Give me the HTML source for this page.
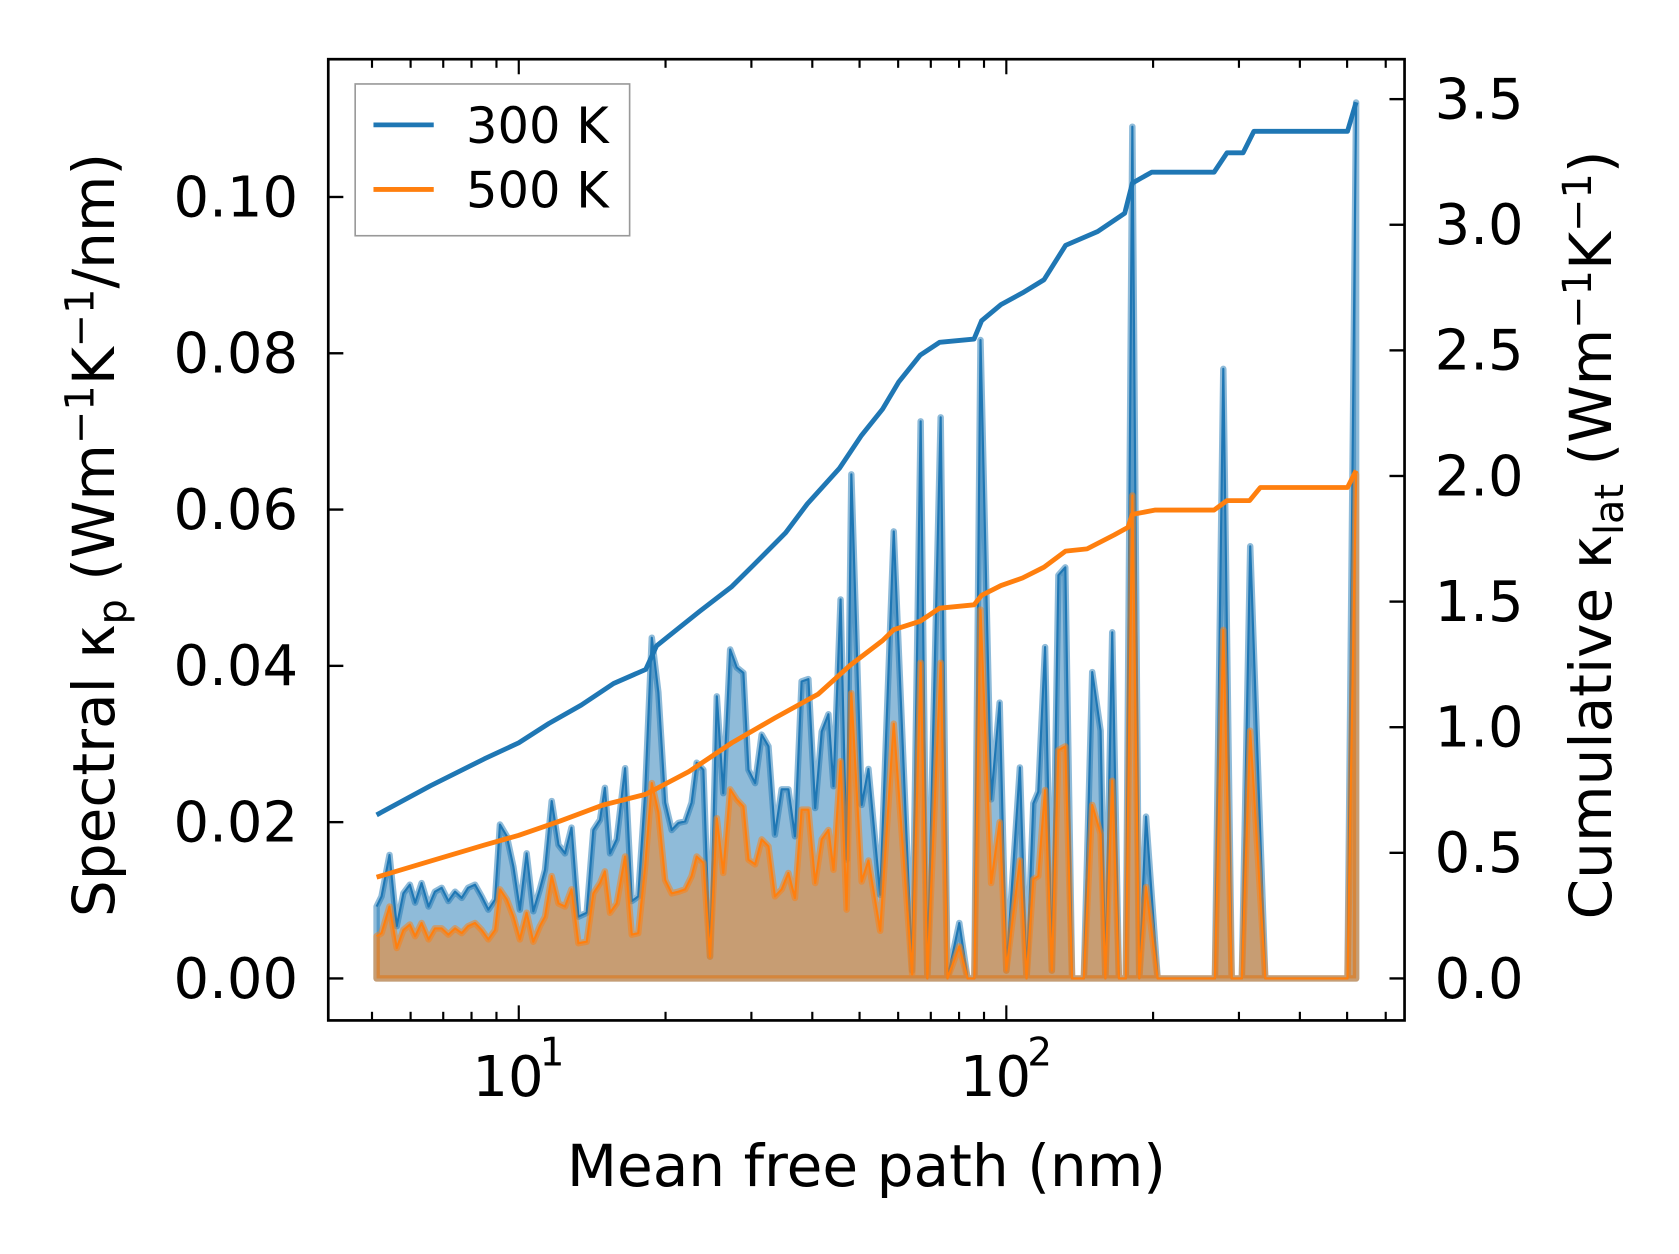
<!DOCTYPE html>
<html><head><meta charset="utf-8"><style>
html,body{margin:0;padding:0;background:#fff;}
svg{display:block;font-family:"DejaVu Sans","Liberation Sans",sans-serif;}
</style></head><body>
<svg id="chart" width="1679" height="1254" viewBox="0 0 1560 1165" preserveAspectRatio="none" xmlns="http://www.w3.org/2000/svg">
<rect width="1560" height="1165" fill="#fff"/>
<g id="plot"></g>
<g id="axes"></g>
</svg>
<script>
const mfp = [5.11,5.23,5.43,5.62,5.80,5.98,6.13,6.32,6.53,6.73,6.95,7.17,7.40,7.64,7.87,8.13,8.39,8.66,8.94,9.15,9.45,9.75,10.05,10.38,10.71,11.05,11.32,11.68,12.06,12.44,12.83,13.25,13.78,14.22,14.68,15.02,15.39,15.88,16.52,17.05,17.58,18.16,18.74,19.33,19.96,20.59,21.26,21.94,22.62,23.17,23.91,24.68,25.48,26.27,27.13,27.99,28.89,29.58,30.53,31.50,32.52,33.53,34.62,35.73,36.86,38.04,39.26,40.54,41.83,43.17,44.20,45.71,47.03,48.10,50.50,52.14,55.12,58.75,64.11,66.71,68.87,73.34,75.73,80.09,83.29,86.0,88.5,93.1,96.9,100,106.6,110.0,113.6,116.3,120.1,124.0,127.9,132.1,136.4,144.2,150.0,156.1,159.6,164.9,170.2,175.8,181.3,187.3,193.4,204.3,267.8,278.6,289.9,304.1,316.4,339.7,501,521.8];
const spec300 = [.0092,.0105,.0158,.0067,.0109,.0120,.0097,.0122,.0092,.0111,.0116,.0099,.0111,.0103,.0116,.0120,.0105,.0088,.0101,.0197,.0182,.0143,.0088,.0160,.0086,.0114,.0139,.0227,.0171,.0160,.0193,.0079,.0084,.0190,.0203,.0244,.0160,.0178,.0269,.0099,.0105,.0237,.0436,.0366,.0225,.0190,.0199,.0201,.0225,.0276,.0267,.0028,.0361,.0237,.0421,.0398,.0391,.0267,.0250,.0312,.0297,.0184,.0242,.0242,.0182,.0380,.0383,.0218,.0316,.0338,.0246,.0485,.0152,.0645,.0222,.0268,.0107,.0572,.001,.0713,0,.0718,0,.0071,0,0,.0817,.0229,.0353,.001,.0270,0,.0224,.0239,.0424,.001,.0516,.0526,0,0,.0392,.0317,0,.0443,0,0,.109,0,.0207,0,0,.078,0,0,.0553,0,0,.1121];
const spec500 = [.0054,.0058,.0092,.0039,.0062,.0069,.0054,.0071,.0050,.0064,.0064,.0056,.0064,.0058,.0067,.0071,.0062,.0050,.0062,.0114,.0101,.0079,.0050,.0084,.0047,.0067,.0079,.0131,.0096,.0092,.0114,.0045,.0047,.0109,.0122,.0137,.0084,.0096,.0156,.0056,.0058,.0143,.0250,.0212,.0126,.0109,.0111,.0114,.0131,.0156,.0148,.0028,.0205,.0135,.0242,.0229,.0220,.0152,.0146,.0178,.0169,.0105,.0114,.0135,.0103,.0216,.0216,.0122,.0178,.0190,.0139,.0278,.0088,.0365,.0124,.0151,.0061,.0326,.0005,.0404,0,.0404,0,.0041,0,0,.0472,.0122,.0200,.001,.0151,0,.0127,.0131,.0241,.001,.0292,.0297,0,0,.0222,.0185,0,.0253,0,0,.0618,0,.0117,0,0,.0446,0,0,.0317,0,0,.0645];
const cumMfp300 = [5.11,6.59,8.50,10,11.53,13.43,15.65,18.22,19.17,23.49,27.36,30.29,35.28,39.06,45.48,50.35,55.74,60.15,66.60,72.98,85.87,88.98,97.5,107.9,119.5,132.3,154.0,174.9,181.3,198.6,266.7,283.5,306.0,321.9,501,521.8];
const cum300 = [0.651,0.767,0.874,0.938,1.015,1.088,1.174,1.230,1.324,1.461,1.560,1.645,1.774,1.889,2.031,2.159,2.266,2.374,2.481,2.532,2.545,2.618,2.682,2.729,2.781,2.918,2.973,3.046,3.166,3.209,3.209,3.286,3.286,3.372,3.372,3.488];
const cumMfp500 = [5.11,6.59,8.50,10,12.13,14.86,18.22,22.33,27.36,33.53,41.09,47.86,55.74,58.75,66.60,72.98,85.87,88.98,97.5,107.9,119.5,132.3,146.4,166.3,177.6,181.3,201.6,266.7,283.5,315.5,331.9,501,521.8];
const cum500 = [0.403,0.467,0.531,0.570,0.626,0.690,0.733,0.823,0.938,1.037,1.131,1.247,1.345,1.388,1.422,1.474,1.487,1.525,1.564,1.594,1.637,1.701,1.710,1.765,1.795,1.847,1.864,1.864,1.902,1.902,1.954,1.954,2.022];
const yTicksL = ["0.00","0.02","0.04","0.06","0.08","0.10"];
const yTicksR = ["0.0","0.5","1.0","1.5","2.0","2.5","3.0","3.5"];
const xDecades = [1,2];

const L=305,R=1305,T=55,B=948;
const X = v => 482 + (Math.log10(v)-1)*453;
const YL = v => 909 - v*7260;
const YR = v => 909 - v*233.4;
const NS='http://www.w3.org/2000/svg';
const plot=document.getElementById('plot'), axes=document.getElementById('axes');
function mk(tag, attrs, parent){const e=document.createElementNS(NS,tag);for(const k in attrs)e.setAttribute(k,attrs[k]);parent.appendChild(e);return e;}

function area(vals, color, name){
  const pts = mfp.map((m,i)=>X(m).toFixed(1)+','+YL(vals[i]).toFixed(1));
  const d='M'+X(mfp[0]).toFixed(1)+','+YL(0)+' L'+pts.join(' L')+' L'+X(mfp[mfp.length-1]).toFixed(1)+','+YL(0)+' Z';
  const a=mk('path',{d:d,fill:color,'fill-opacity':0.5,stroke:color,'stroke-opacity':0.5,'stroke-width':6,'stroke-linejoin':'round'},plot);
  
  
  const l=mk('polyline',{points:pts.join(' '),fill:'none',stroke:color,'stroke-width':2,'stroke-linejoin':'round'},plot);
  
  
}
area(spec300,'#1f77b4','spectral-300k');
area(spec500,'#ff7f0e','spectral-500k');
function cum(xs, vals, color, name){
  const pts = xs.map((m,i)=>X(m).toFixed(1)+','+YR(vals[i]).toFixed(1)).join(' ');
  const l=mk('polyline',{points:pts,fill:'none',stroke:color,'stroke-width':4.5,'stroke-linejoin':'round'},plot);
  
  
}
cum(cumMfp300,cum300,'#1f77b4','cumulative-300k');
cum(cumMfp500,cum500,'#ff7f0e','cumulative-500k');

const fr=mk('rect',{x:L,y:T,width:R-L,height:B-T,fill:'none',stroke:'#000','stroke-width':2.5},axes);


yTicksL.forEach(t=>{const y=YL(parseFloat(t));
  mk('line',{x1:L,x2:L+14,y1:y,y2:y,stroke:'#000','stroke-width':2.2},axes);
  const tx=mk('text',{x:L-28,y:y+18,'font-size':52,'text-anchor':'end'},axes);tx.textContent=t;
  
  
});
yTicksR.forEach(t=>{const y=YR(parseFloat(t));
  mk('line',{x1:R-14,x2:R,y1:y,y2:y,stroke:'#000','stroke-width':2.2},axes);
  const tx=mk('text',{x:R+28,y:y+18,'font-size':52,'text-anchor':'start'},axes);tx.textContent=t;
  
  
});
for(let e=0;e<=2;e++){for(let k=1;k<10;k++){const v=k*Math.pow(10,e);const x=X(v);if(x<L||x>R)continue;
  const len=k===1?14:8;
  mk('line',{x1:x,x2:x,y1:B,y2:B-len,stroke:'#000','stroke-width':2},axes);
  mk('line',{x1:x,x2:x,y1:T,y2:T+len,stroke:'#000','stroke-width':2},axes);}}
xDecades.forEach(p=>{const x=X(Math.pow(10,p));
  const tx=mk('text',{x:x-10,y:1018,'font-size':52,'text-anchor':'middle'},axes);tx.textContent='10';
  
  
  const sp=mk('text',{x:x+31,y:990,'font-size':36,'text-anchor':'middle'},axes);sp.textContent=String(p);
  
  
});
</script>
<svg style="position:absolute;left:0;top:0" width="1679" height="1254" viewBox="0 0 1560 1165" preserveAspectRatio="none" xmlns="http://www.w3.org/2000/svg" font-family="DejaVu Sans, Liberation Sans, sans-serif">
<text x="805" y="1102" font-size="54" text-anchor="middle">Mean free path (nm)</text>
<text transform="translate(106,497) rotate(-90)" font-size="54" text-anchor="middle">Spectral κ<tspan font-size="37" dy="11">p</tspan><tspan dy="-11"> (Wm</tspan><tspan font-size="37" dy="-19">−1</tspan><tspan dy="19">K</tspan><tspan font-size="37" dy="-19">−1</tspan><tspan dy="19">/nm)</tspan></text>
<text transform="translate(1497,497) rotate(-90)" font-size="54" text-anchor="middle">Cumulative κ<tspan font-size="37" dy="11">lat</tspan><tspan dy="-11"> (Wm</tspan><tspan font-size="37" dy="-19">−1</tspan><tspan dy="19">K</tspan><tspan font-size="37" dy="-19">−1</tspan><tspan dy="19">)</tspan></text>
<g>
<rect x="330" y="78" width="255" height="141" fill="#fff" fill-opacity="0.8" stroke="#999" stroke-width="1.5"/>
<line x1="347" x2="403" y1="116" y2="116" stroke="#1f77b4" stroke-width="4.5"/>
<text x="433" y="133" font-size="46">300 K</text>
<line x1="347" x2="403" y1="176" y2="176" stroke="#ff7f0e" stroke-width="4.5"/>
<text x="433" y="193" font-size="46">500 K</text>
</g>
</svg>
</body></html>
